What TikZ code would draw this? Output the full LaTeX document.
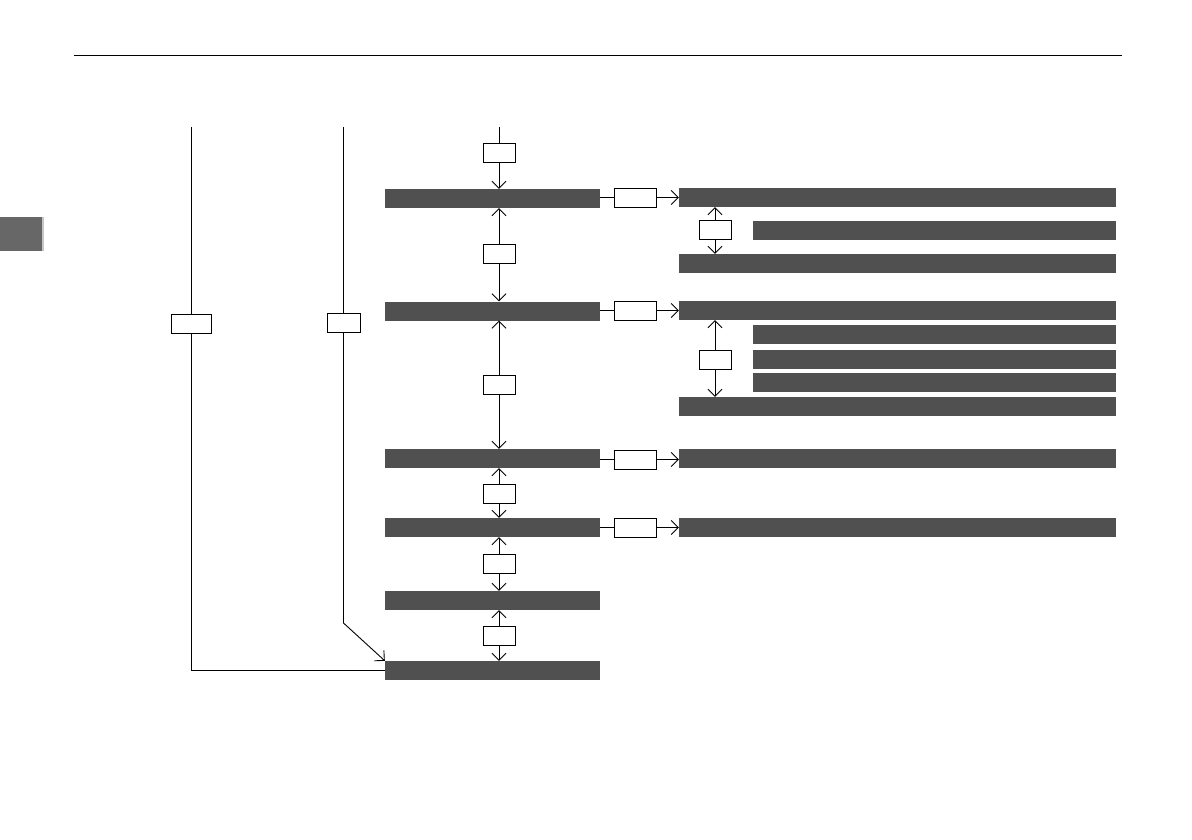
\documentclass[tikz,border=0pt]{standalone}
\usepackage{tikz}
\usetikzlibrary{arrows.meta,positioning,calc}
\definecolor{bargray}{HTML}{505050}
\definecolor{tabgray}{HTML}{676767}
\tikzset{
  >={Straight Barb[length=7pt,width=14pt]},
  link/.style={line width=0.9pt, black},
  bar/.style={fill=bargray, inner sep=0pt, minimum height=19pt},
  keybox/.style={draw=black, line width=0.9pt, fill=white, inner sep=0pt, minimum height=19pt, minimum width=32pt},
  widekey/.style={keybox, minimum width=42pt}
}

\begin{document}
\begin{tikzpicture}[x=1pt,y=-1pt]
  \useasboundingbox (0,0) rectangle (1192,840);
  % page header and side tab
  \draw[line width=1pt] (74,56) -- (1122,56);
  \fill[tabgray] (0,217) rectangle (42,251);
  \fill[gray!45] (42,217) rectangle (43.5,251);

  % main column
  \node[bar, minimum width=215pt] (m1) at (492.5,198.5) {};
  \node[bar, minimum width=215pt] (m2) at (492.5,311) {};
  \node[bar, minimum width=215pt] (m3) at (492.5,458.5) {};
  \node[bar, minimum width=215pt] (m4) at (492.5,527.5) {};
  \node[bar, minimum width=215pt] (m5) at (492.5,600.5) {};
  \node[bar, minimum width=215pt] (m6) at (492.5,670.5) {};

  \node[keybox] (k0) at (499,152.5) {};
  \node[keybox] (k1) at (499,253.5) {};
  \node[keybox] (k2) at (499,384.5) {};
  \node[keybox] (k3) at (499,493.5) {};
  \node[keybox] (k4) at (499,563.5) {};
  \node[keybox] (k5) at (499,635.5) {};

  \coordinate (ktop) at (499,127);
  \draw[link] (ktop) -- (k0);
  \draw[link,->] (k0) -- (m1.north -| k0);
  \foreach \k/\a/\b in {k1/m1/m2, k2/m2/m3, k3/m3/m4, k4/m4/m5, k5/m5/m6}{
    \draw[link,->] (\k) -- (\a.south -| \k);
    \draw[link,->] (\k) -- (\b.north -| \k);
  }

  % right branches
  \node[bar, minimum width=437pt] (r1) at (897.5,197.5) {};
  \node[bar, minimum width=363pt] (s1) at (934.5,230.5) {};
  \node[bar, minimum width=437pt] (r1b) at (897.5,263.5) {};
  \node[bar, minimum width=437pt] (r2) at (897.5,310.5) {};
  \node[bar, minimum width=363pt] (s2a) at (934.5,334.5) {};
  \node[bar, minimum width=363pt] (s2b) at (934.5,359.5) {};
  \node[bar, minimum width=363pt] (s2c) at (934.5,382.5) {};
  \node[bar, minimum width=437pt] (r2b) at (897.5,406.5) {};
  \node[bar, minimum width=437pt] (r3) at (897.5,458.5) {};
  \node[bar, minimum width=437pt] (r4) at (897.5,527.5) {};

  \node[widekey] (q1) at (635,197.5) {};
  \node[widekey] (q2) at (635,310.5) {};
  \node[widekey] (q3) at (635,459.5) {};
  \node[widekey] (q4) at (635,527.5) {};
  \foreach \m/\q/\r in {m1/q1/r1, m2/q2/r2, m3/q3/r3, m4/q4/r4}{
    \draw[link] (\m.east |- \q) -- (\q);
    \draw[link,->] (\q) -- (\r.west |- \q);
  }

  \node[keybox] (v1) at (715,229.5) {};
  \node[keybox] (v2) at (715,359.5) {};
  \draw[link,->] (v1) -- (r1.south -| v1);
  \draw[link,->] (v1) -- (r1b.north -| v1);
  \draw[link,->] (v2) -- (r2.south -| v2);
  \draw[link,->] (v2) -- (r2b.north -| v2);

  % left bypass lines
  \node[keybox, minimum width=40pt] (L1) at (191,323.5) {};
  \node[keybox, minimum width=33pt] (L2) at (343.5,322.5) {};
  \coordinate (l1top) at (191,127);
  \coordinate (l2top) at (343.5,127);
  \coordinate (l2bend) at (343.5,623);
  \draw[link] (l1top) -- (L1);
  \draw[link] (L1) |- (m6.west);
  \draw[link] (l2top) -- (L2);
  \draw[link,->] (L2) -- (l2bend) -- (m6.north west);
\end{tikzpicture}
\end{document}
